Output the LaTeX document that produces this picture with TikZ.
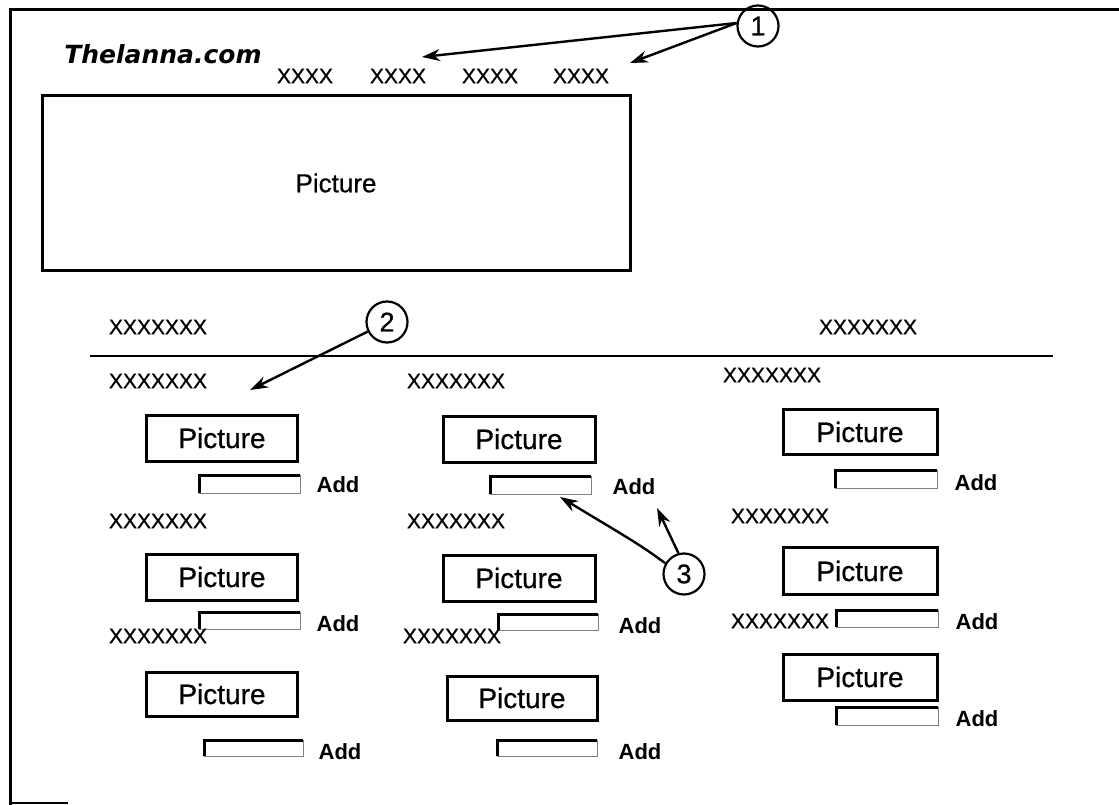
\documentclass[tikz,border=0pt]{standalone}
\usepackage{fontspec}
\setmainfont{Liberation Sans}
\newfontfamily\logofont{DejaVu Sans}
\newfontfamily\heavyfont[FakeBold=0.6]{Liberation Sans}
\usetikzlibrary{arrows.meta}
\begin{document}
\begin{tikzpicture}[x=1pt,y=-1pt,
  picbox/.style={draw,line width=3pt,inner sep=0pt,font=\heavyfont\fontsize{28}{30}\selectfont},
  xtext/.style={inner sep=0pt,font=\heavyfont\fontsize{21}{23}\selectfont},
  addtext/.style={inner sep=0pt,font=\bfseries\fontsize{22}{24}\selectfont},
  numcirc/.style={draw,circle,line width=2.2pt,minimum size=41pt,inner sep=0pt,font=\heavyfont\fontsize{27}{29}\selectfont},
  callout/.style={line width=2.4pt,-{Stealth[length=18pt,width=12pt]}},
  addfield/.style={draw=gray,line width=1pt},
  addedge/.style={line width=3pt}
]
\useasboundingbox (0,0) rectangle (1119,805);
% frame
\draw[line width=3pt] (1119,10) -- (10,10) -- (10,805);
\draw[line width=2pt] (10,803) -- (68,803);

% header
\node[inner sep=0pt,font=\logofont\bfseries\itshape\fontsize{25}{27}\selectfont] (logo) at (163,54) {Thelanna.com};
\node[xtext] (m1) at (305,76) {XXXX};
\node[xtext] (m2) at (398,76) {XXXX};
\node[xtext] (m3) at (490,76) {XXXX};
\node[xtext] (m4) at (581,76) {XXXX};
\node[draw,line width=3pt,inner sep=0pt,minimum width=588pt,minimum height=174pt,font=\heavyfont\fontsize{26}{28}\selectfont] (big) at (336,183) {Picture};

% section headings
\node[xtext] (h1) at (158,327) {XXXXXXX};
\node[xtext] (h2) at (868,327) {XXXXXXX};
\draw[line width=2.2pt] (90,356) -- (1053,356);

% column 1
\node[xtext] (a1) at (158,381) {XXXXXXX};
\node[picbox,minimum width=151pt,minimum height=46pt] (p11) at (222,438) {Picture};
\draw[addfield] (199,475) rectangle (300,493);
\draw[addedge] (199,493) -- (199,475) -- (300,475);
\node[addtext] (d11) at (338,485) {Add};

\node[xtext] (a2) at (158,521) {XXXXXXX};
\node[picbox,minimum width=151pt,minimum height=46pt] (p12) at (222,577) {Picture};
\draw[addfield] (199,612) rectangle (300,629);
\draw[addedge] (199,629) -- (199,612) -- (300,612);
\node[addtext] (d12) at (338,624) {Add};
\node[xtext] (a3) at (158,636) {XXXXXXX};

\node[picbox,minimum width=151pt,minimum height=44pt] (p13) at (222,694) {Picture};
\draw[addfield] (204,740) rectangle (303,756);
\draw[addedge] (204,756) -- (204,740) -- (303,740);
\node[addtext] (d13) at (340,752) {Add};

% column 2
\node[xtext] (b1) at (456,381) {XXXXXXX};
\node[picbox,minimum width=152pt,minimum height=46pt] (p21) at (519,439) {Picture};
\draw[addfield] (490,476) rectangle (591,494);
\draw[addedge] (490,494) -- (490,476) -- (591,476);
\node[addtext] (d21) at (634,487) {Add};

\node[xtext] (b2) at (456,521) {XXXXXXX};
\node[picbox,minimum width=152pt,minimum height=46pt] (p22) at (519,578) {Picture};
\draw[addfield] (498,614) rectangle (598,630);
\draw[addedge] (498,630) -- (498,614) -- (598,614);
\node[addtext] (d22) at (640,626) {Add};
\node[xtext] (b3) at (452,636) {XXXXXXX};

\node[picbox,minimum width=150pt,minimum height=44pt] (p23) at (522,698) {Picture};
\draw[addfield] (497,740) rectangle (597,756);
\draw[addedge] (497,756) -- (497,740) -- (597,740);
\node[addtext] (d23) at (640,752) {Add};

% column 3
\node[xtext] (c1x) at (772,375) {XXXXXXX};
\node[picbox,minimum width=154pt,minimum height=45pt] (p31) at (860,432) {Picture};
\draw[addfield] (835,470) rectangle (937,488);
\draw[addedge] (835,488) -- (835,470) -- (937,470);
\node[addtext] (d31) at (976,483) {Add};

\node[xtext] (c2x) at (780,516) {XXXXXXX};
\node[picbox,minimum width=154pt,minimum height=47pt] (p32) at (860,571) {Picture};
\node[xtext] (c3x) at (780,621) {XXXXXXX};
\draw[addfield] (836,610) rectangle (938,627);
\draw[addedge] (836,627) -- (836,610) -- (938,610);
\node[addtext] (d32) at (977,622) {Add};

\node[picbox,minimum width=154pt,minimum height=46pt] (p33) at (860,677) {Picture};
\draw[addfield] (836,707) rectangle (938,725);
\draw[addedge] (836,725) -- (836,707) -- (938,707);
\node[addtext] (d33) at (977,719) {Add};

% callouts
\node[numcirc] (n1) at (758,26) {1};
\coordinate (t1a) at (422,57);
\coordinate (t1b) at (630,63);
\draw[callout] (n1.172) -- (t1a);
\draw[callout] (n1.172) -- (t1b);

\node[numcirc] (n2) at (387,322) {2};
\coordinate (t2) at (250,390);
\draw[callout] (n2) -- (t2);

\node[numcirc] (n3) at (684,574) {3};
\coordinate (t3a) at (560,497);
\coordinate (t3b) at (657,508);
\draw[callout] (n3.150) .. controls (640,545) .. (t3a);
\draw[callout] (n3.105) -- (t3b);
\end{tikzpicture}
\end{document}
